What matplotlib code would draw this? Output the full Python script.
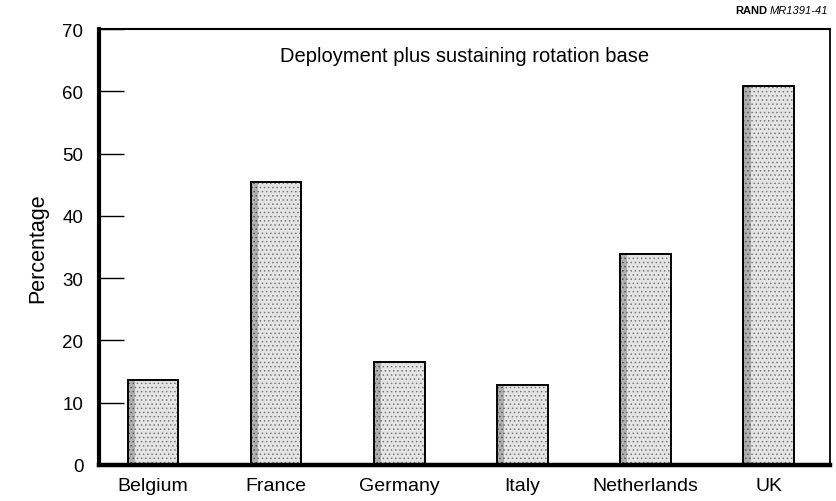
import matplotlib.pyplot as plt
import numpy as np

countries = ["Belgium", "France", "Germany", "Italy", "Netherlands", "UK"]
percentages = [13.6, 45.4, 16.5, 12.8, 33.8, 60.9]
y_ticks = [0, 10, 20, 30, 40, 50, 60, 70]

plt.rcParams["font.family"] = ["Liberation Sans", "DejaVu Sans"]
plt.rcParams["hatch.linewidth"] = 0.6

fig = plt.figure(figsize=(8.37, 5.02), dpi=100)
ax = fig.add_axes([0.118, 0.072, 0.874, 0.868])

x = np.arange(len(countries))
width = 0.41

# stippled fill, with a darker band on the left edge like the printed original
ax.bar(x, percentages, width=width, color="#e4e4e4", edgecolor="#7a7a7a",
       linewidth=0, hatch="....", zorder=2)
ax.bar(x - width / 2, percentages, width=width * 0.14, align="edge",
       color="#b0b0b0", edgecolor="#555555", linewidth=0, hatch="....", zorder=2)
ax.bar(x, percentages, width=width, fill=False, edgecolor="black",
       linewidth=1.4, zorder=3)

ax.set_xlim(-0.44, 5.5)
ax.set_ylim(0, 70)
ax.set_yticks(y_ticks)
ax.set_xticks(x)
ax.set_xticklabels(countries)
ax.tick_params(axis="y", direction="in", length=18, width=1, labelsize=13.5, pad=11)
ax.tick_params(axis="x", length=0, labelsize=14, pad=9)
ax.set_ylabel("Percentage", fontsize=15.5, labelpad=10)

for side, lw in [("left", 3.0), ("bottom", 3.2), ("top", 1.5), ("right", 1.3)]:
    ax.spines[side].set_linewidth(lw)

ax.text(0.5, 0.94, "Deployment plus sustaining rotation base",
        transform=ax.transAxes, ha="center", va="center", fontsize=14.5)

fig.text(0.917, 0.978, "RAND", fontsize=8, fontweight="bold", ha="right", va="center")
fig.text(0.919, 0.978, "MR1391-41", fontsize=8, style="italic", ha="left", va="center")

fig.savefig("out.png", dpi=100)
